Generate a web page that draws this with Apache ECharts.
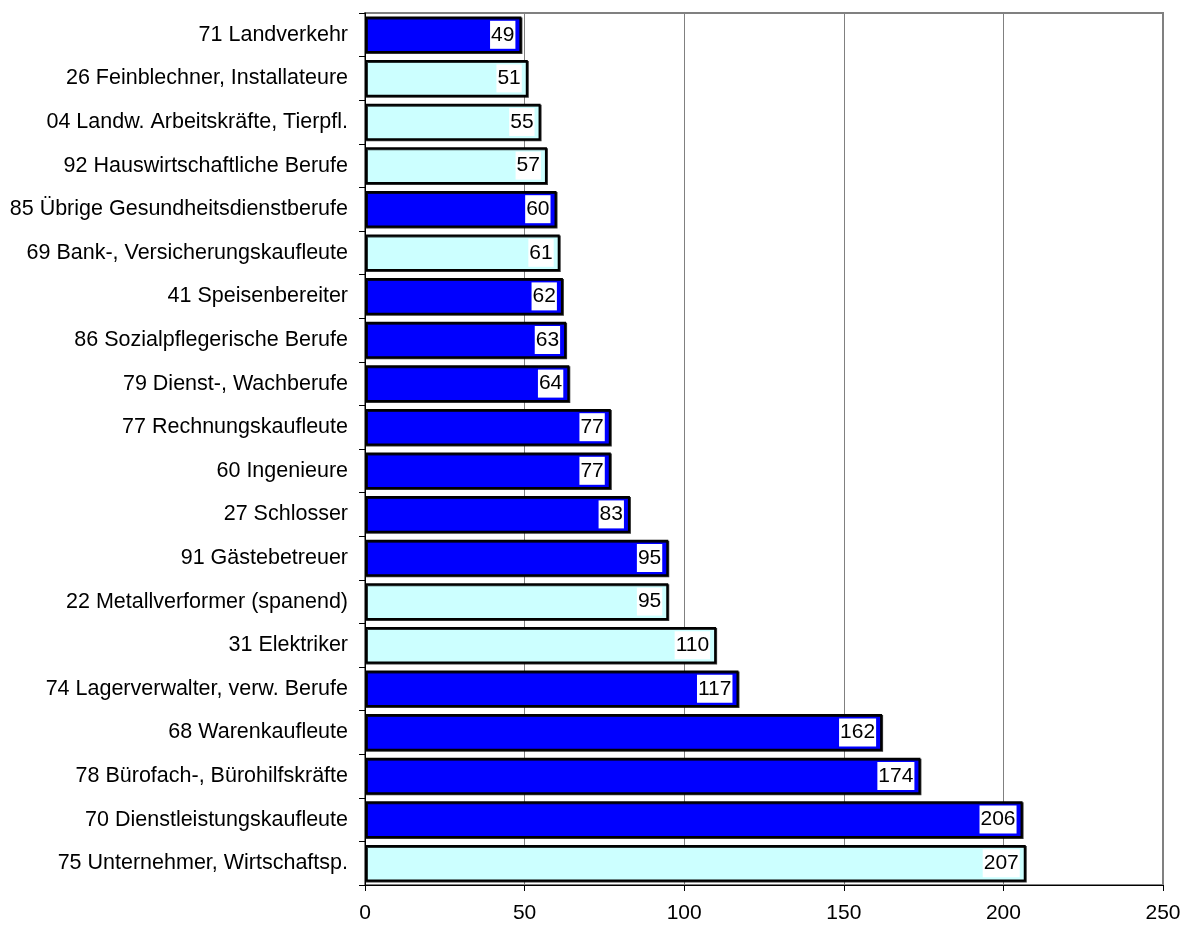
<!DOCTYPE html>
<html>
<head>
<meta charset="utf-8">
<script src="https://cdn.jsdelivr.net/npm/echarts@6/dist/echarts.min.js"></script>
<style>
  html, body { margin: 0; padding: 0; background: #fff; }
  #chart { width: 1184px; height: 925px; }
</style>
</head>
<body>
<div id="chart"></div>
<script>
// Occupational groups, listed top to bottom
const categories = [
  '71 Landverkehr',
  '26 Feinblechner, Installateure',
  '04 Landw. Arbeitskräfte, Tierpfl.',
  '92 Hauswirtschaftliche Berufe',
  '85 Übrige Gesundheitsdienstberufe',
  '69 Bank-, Versicherungskaufleute',
  '41 Speisenbereiter',
  '86 Sozialpflegerische Berufe',
  '79 Dienst-, Wachberufe',
  '77 Rechnungskaufleute',
  '60 Ingenieure',
  '27 Schlosser',
  '91 Gästebetreuer',
  '22 Metallverformer (spanend)',
  '31 Elektriker',
  '74 Lagerverwalter, verw. Berufe',
  '68 Warenkaufleute',
  '78 Bürofach-, Bürohilfskräfte',
  '70 Dienstleistungskaufleute',
  '75 Unternehmer, Wirtschaftsp.'
];
const values = [49, 51, 55, 57, 60, 61, 62, 63, 64, 77, 77, 83, 95, 95, 110, 117, 162, 174, 206, 207];
// 'b' = dark blue group, 'c' = light cyan group
const groups = ['b', 'c', 'c', 'c', 'b', 'c', 'b', 'b', 'b', 'b', 'b', 'b', 'b', 'c', 'c', 'b', 'b', 'b', 'b', 'c'];
const xTicks = [0, 50, 100, 150, 200, 250];

const groupColor = { b: '#0000FF', c: '#CCFFFF' };
const font = 'Liberation Sans, Arial, sans-serif';

const chart = echarts.init(document.getElementById('chart'), null, { renderer: 'canvas' });

chart.setOption({
  animation: false,
  backgroundColor: '#ffffff',
  grid: {
    left: 365, right: 21, top: 13, bottom: 40,
    show: true, borderColor: '#808080', borderWidth: 2, backgroundColor: 'transparent'
  },
  xAxis: {
    type: 'value',
    min: xTicks[0],
    max: xTicks[xTicks.length - 1],
    interval: 50,
    axisLine: { show: true, lineStyle: { color: '#000', width: 1 } },
    axisTick: { show: true, length: 6, lineStyle: { color: '#000' } },
    axisLabel: { color: '#000', fontSize: 21, fontFamily: font, margin: 18 },
    splitLine: { show: true, lineStyle: { color: '#808080', width: 1 } }
  },
  yAxis: {
    type: 'category',
    inverse: true,
    data: categories,
    axisLine: { show: true, lineStyle: { color: '#000', width: 1 } },
    axisTick: { show: true, length: 6, alignWithLabel: false, lineStyle: { color: '#000' } },
    axisLabel: { color: '#000', fontSize: 21.5, fontFamily: font, margin: 17 },
    splitLine: { show: false }
  },
  series: [{
    type: 'bar',
    barCategoryGap: '16%',
    data: values.map((v, i) => ({
      value: v,
      itemStyle: { color: groupColor[groups[i]] }
    })),
    itemStyle: {
      borderColor: '#000',
      borderWidth: 2,
      shadowColor: 'rgba(0,0,0,0.8)',
      shadowOffsetX: 1,
      shadowOffsetY: 1,
      shadowBlur: 0
    },
    label: {
      show: true,
      position: 'insideRight',
      distance: 6,
      color: '#000',
      fontSize: 21,
      fontFamily: font,
      backgroundColor: '#ffffff',
      padding: [4, 1, 3, 1]
    }
  }]
});
</script>
</body>
</html>
